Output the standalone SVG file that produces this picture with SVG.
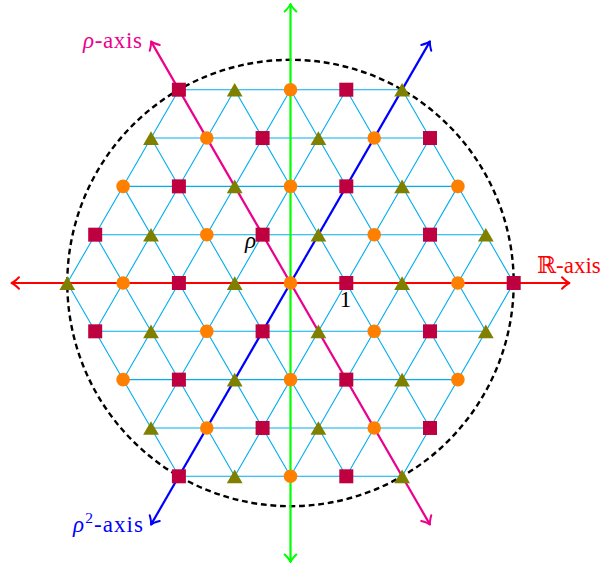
<svg xmlns="http://www.w3.org/2000/svg" xmlns:xlink="http://www.w3.org/1999/xlink" width="600" height="563" viewBox="0 0 600 563">
<style>
.grid{fill:none;stroke:#00AEEF;stroke-width:1.1}
.ring{fill:none;stroke:#000;stroke-width:2.4;stroke-dasharray:5.8 3.8}
.axis{fill:none;stroke-width:2.2}
.lbl{font-family:"Liberation Serif","DejaVu Serif",serif;font-size:23px}
.ah{fill:none;stroke-width:2;stroke-linecap:round;stroke-linejoin:round}
</style>
<defs>
<marker id="aR" markerUnits="userSpaceOnUse" orient="auto-start-reverse" refX="0" refY="0" markerWidth="20" markerHeight="20" viewBox="-10 -10 20 20" overflow="visible"><path class="ah" stroke="#FF0000" d="M-7.5-5.8Q-3-1.2 0 0Q-3 1.2-7.5 5.8"/></marker>
<marker id="aG" markerUnits="userSpaceOnUse" orient="auto-start-reverse" refX="0" refY="0" markerWidth="20" markerHeight="20" viewBox="-10 -10 20 20" overflow="visible"><path class="ah" stroke="#00FF00" d="M-7.5-5.8Q-3-1.2 0 0Q-3 1.2-7.5 5.8"/></marker>
<marker id="aM" markerUnits="userSpaceOnUse" orient="auto-start-reverse" refX="0" refY="0" markerWidth="20" markerHeight="20" viewBox="-10 -10 20 20" overflow="visible"><path class="ah" stroke="#EC008C" d="M-7.5-5.8Q-3-1.2 0 0Q-3 1.2-7.5 5.8"/></marker>
<marker id="aB" markerUnits="userSpaceOnUse" orient="auto-start-reverse" refX="0" refY="0" markerWidth="20" markerHeight="20" viewBox="-10 -10 20 20" overflow="visible"><path class="ah" stroke="#0000FF" d="M-7.5-5.8Q-3-1.2 0 0Q-3 1.2-7.5 5.8"/></marker>
<rect id="sq" x="-7" y="-7" width="14" height="14" fill="#BF0040"/>
<polygon id="tr" points="0,-6.8 7.9,6.9 -7.9,6.9" fill="#808000"/>
<circle id="ci" r="6.8" fill="#FF8000"/>
</defs>
<rect width="600" height="563" fill="#fff"/>
<g id="connectors">
<path id="grid" class="grid" d="M178.9 89.7H402.1M151 138.03H430M123.1 186.35H457.9M95.2 234.68H485.8M67.3 283H513.7M95.2 331.32H485.8M123.1 379.65H457.9M151 427.97H430M178.9 476.3H402.1
M178.9 89.7L67.3 283M234.7 89.7L95.2 331.32M290.5 89.7L123.1 379.65M346.3 89.7L151 427.97M402.1 89.7L178.9 476.3M430 138.03L234.7 476.3M457.9 186.35L290.5 476.3M485.8 234.68L346.3 476.3M513.7 283L402.1 476.3
M402.1 89.7L513.7 283M346.3 89.7L485.8 331.32M290.5 89.7L457.9 379.65M234.7 89.7L430 427.97M178.9 89.7L402.1 476.3M151 138.03L346.3 476.3M123.1 186.35L290.5 476.3M95.2 234.68L234.7 476.3M67.3 283L178.9 476.3"/>
<circle id="unit-circle" class="ring" cx="290.5" cy="283" r="223.2"/>
<path id="real-axis" class="axis" stroke="#FF0000" d="M11.5 283H569.5" marker-start="url(#aR)" marker-end="url(#aR)"/>
<path id="imag-axis" class="axis" stroke="#00FF00" d="M290.5 562V4" marker-start="url(#aG)" marker-end="url(#aG)"/>
<path id="rho-axis" class="axis" stroke="#EC008C" d="M430 524.6L151 41.4" marker-start="url(#aM)" marker-end="url(#aM)"/>
<path id="rho2-axis" class="axis" stroke="#0000FF" d="M151 524.6L430 41.4" marker-start="url(#aB)" marker-end="url(#aB)"/>
</g>
<g id="points">
<g id="row4">
<use href="#sq" x="178.9" y="89.7"/><use href="#tr" x="234.7" y="89.7"/><use href="#ci" x="290.5" y="89.7"/><use href="#sq" x="346.3" y="89.7"/><use href="#tr" x="402.1" y="89.7"/>
</g>
<g id="row3">
<use href="#tr" x="151" y="138.03"/><use href="#ci" x="206.8" y="138.03"/><use href="#sq" x="262.6" y="138.03"/><use href="#tr" x="318.4" y="138.03"/><use href="#ci" x="374.2" y="138.03"/><use href="#sq" x="430" y="138.03"/>
</g>
<g id="row2">
<use href="#ci" x="123.1" y="186.35"/><use href="#sq" x="178.9" y="186.35"/><use href="#tr" x="234.7" y="186.35"/><use href="#ci" x="290.5" y="186.35"/><use href="#sq" x="346.3" y="186.35"/><use href="#tr" x="402.1" y="186.35"/><use href="#ci" x="457.9" y="186.35"/>
</g>
<g id="row1">
<use href="#sq" x="95.2" y="234.68"/><use href="#tr" x="151" y="234.68"/><use href="#ci" x="206.8" y="234.68"/><use href="#sq" x="262.6" y="234.68"/><use href="#tr" x="318.4" y="234.68"/><use href="#ci" x="374.2" y="234.68"/><use href="#sq" x="430" y="234.68"/><use href="#tr" x="485.8" y="234.68"/>
</g>
<g id="row0">
<use href="#tr" x="67.3" y="283"/><use href="#ci" x="123.1" y="283"/><use href="#sq" x="178.9" y="283"/><use href="#tr" x="234.7" y="283"/><use href="#ci" x="290.5" y="283"/><use href="#sq" x="346.3" y="283"/><use href="#tr" x="402.1" y="283"/><use href="#ci" x="457.9" y="283"/><use href="#sq" x="513.7" y="283"/>
</g>
<g id="rowm1">
<use href="#sq" x="95.2" y="331.32"/><use href="#tr" x="151" y="331.32"/><use href="#ci" x="206.8" y="331.32"/><use href="#sq" x="262.6" y="331.32"/><use href="#tr" x="318.4" y="331.32"/><use href="#ci" x="374.2" y="331.32"/><use href="#sq" x="430" y="331.32"/><use href="#tr" x="485.8" y="331.32"/>
</g>
<g id="rowm2">
<use href="#ci" x="123.1" y="379.65"/><use href="#sq" x="178.9" y="379.65"/><use href="#tr" x="234.7" y="379.65"/><use href="#ci" x="290.5" y="379.65"/><use href="#sq" x="346.3" y="379.65"/><use href="#tr" x="402.1" y="379.65"/><use href="#ci" x="457.9" y="379.65"/>
</g>
<g id="rowm3">
<use href="#tr" x="151" y="427.97"/><use href="#ci" x="206.8" y="427.97"/><use href="#sq" x="262.6" y="427.97"/><use href="#tr" x="318.4" y="427.97"/><use href="#ci" x="374.2" y="427.97"/><use href="#sq" x="430" y="427.97"/>
</g>
<g id="rowm4">
<use href="#sq" x="178.9" y="476.3"/><use href="#tr" x="234.7" y="476.3"/><use href="#ci" x="290.5" y="476.3"/><use href="#sq" x="346.3" y="476.3"/><use href="#tr" x="402.1" y="476.3"/>
</g>
</g>
<g id="labels">
<text class="lbl" x="83" y="47.5" fill="#EC008C" textLength="59"><tspan font-style="italic">ρ</tspan>-axis</text>
<text class="lbl" x="537" y="272.5" fill="#FF0000">ℝ-axis</text>
<text class="lbl" x="73" y="531.5" fill="#0000FF" textLength="70"><tspan font-style="italic">ρ</tspan><tspan font-size="15.5" dy="-8.5">2</tspan><tspan dy="8.5">-axis</tspan></text>
<text class="lbl" x="245" y="248" fill="#000" font-style="italic">ρ</text>
<text class="lbl" x="345.5" y="306.5" fill="#000" text-anchor="middle">1</text>
</g>
</svg>
